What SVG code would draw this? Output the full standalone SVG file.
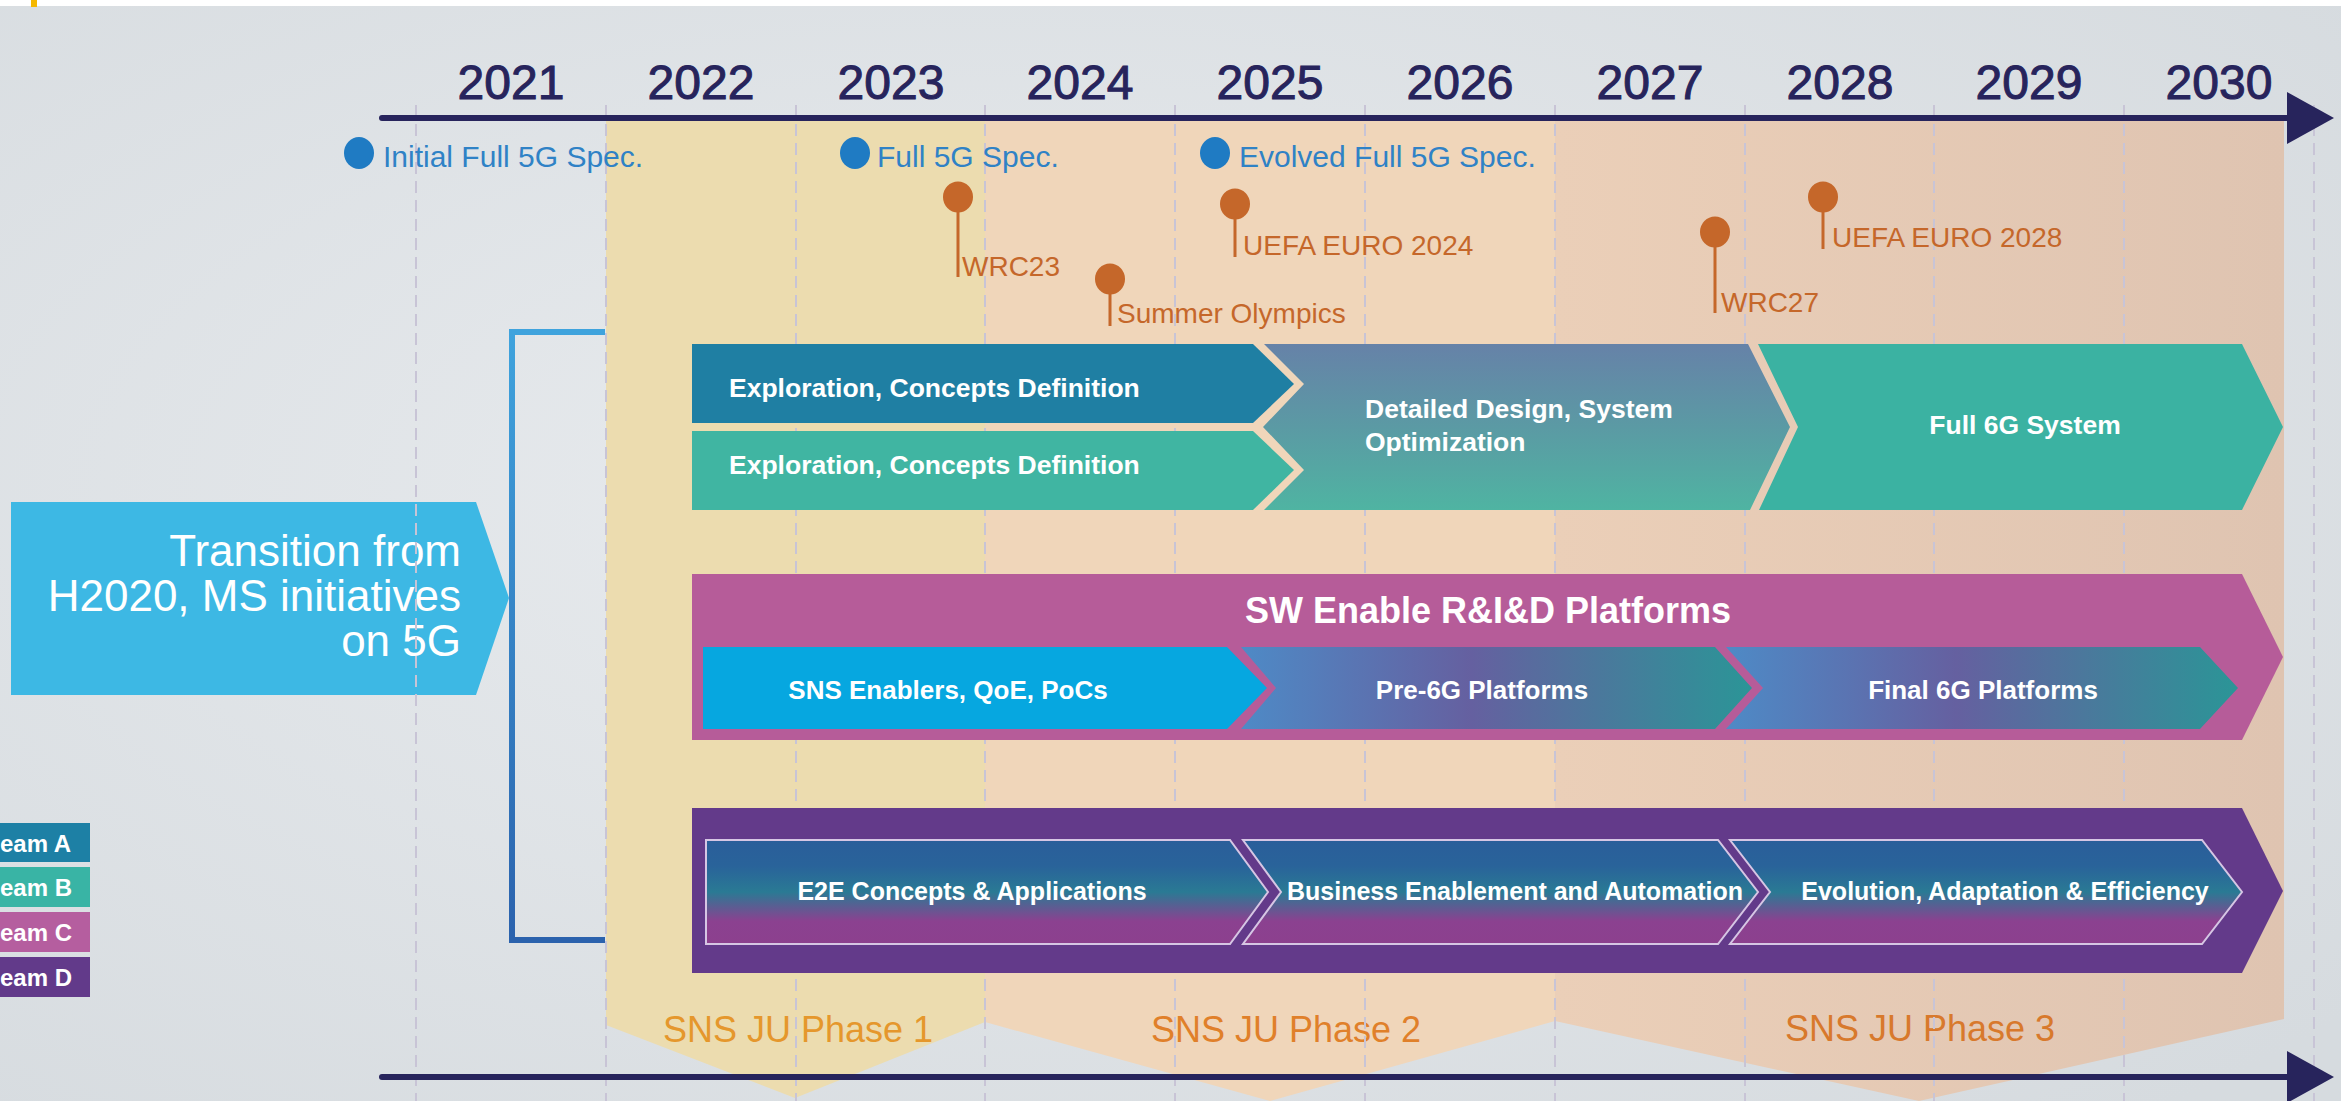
<svg xmlns="http://www.w3.org/2000/svg" width="2341" height="1101" viewBox="0 0 2341 1101">
<defs>
<radialGradient id="bg" cx="0.42" cy="0.45" r="0.75">
<stop offset="0" stop-color="#e8ebee"/>
<stop offset="1" stop-color="#d6dbdf"/>
</radialGradient>
<linearGradient id="ph3" x1="0" y1="0" x2="1" y2="0">
<stop offset="0" stop-color="#ebcfb8"/>
<stop offset="1" stop-color="#dfc4b1"/>
</linearGradient>
<linearGradient id="detail" x1="0" y1="0" x2="0" y2="1">
<stop offset="0" stop-color="#6682a8"/>
<stop offset="0.5" stop-color="#5b9aa4"/>
<stop offset="1" stop-color="#4fb4a2"/>
</linearGradient>
<linearGradient id="plat" x1="0" y1="0" x2="1" y2="0">
<stop offset="0" stop-color="#4e8ac6"/>
<stop offset="0.45" stop-color="#6560a0"/>
<stop offset="1" stop-color="#2b9597"/>
</linearGradient>
<linearGradient id="e2e" x1="0" y1="0" x2="0" y2="1">
<stop offset="0" stop-color="#2a5e9a"/>
<stop offset="0.25" stop-color="#29639a"/>
<stop offset="0.5" stop-color="#2a7a94"/>
<stop offset="0.78" stop-color="#8b4190"/>
<stop offset="1" stop-color="#8c408e"/>
</linearGradient>
<linearGradient id="brk" x1="0" y1="0" x2="0" y2="1">
<stop offset="0" stop-color="#3fa3dd"/>
<stop offset="1" stop-color="#2b62ad"/>
</linearGradient>
<marker id="axhead" viewBox="0 0 47 52" refX="3" refY="26" markerWidth="47" markerHeight="52" markerUnits="userSpaceOnUse" orient="auto">
<path d="M0,0 L47,26 L0,52 Z" fill="#27245c"/>
</marker>
<style>
.f{font-family:"Liberation Sans",Arial,sans-serif}
.yr{font-size:48px;fill:#27245c;stroke:#27245c;stroke-width:1;text-anchor:middle}
.grid{stroke:#c8c4d6;stroke-width:2;stroke-dasharray:12 7;fill:none}
.axis{stroke:#27245c;stroke-width:6;stroke-linecap:round;fill:none}
.blue{font-size:30px;fill:#2f82c6}
.bdot{fill:#1f7bc3}
.org{font-size:28px;fill:#c5672a}
.odot{fill:#c5672a}
.stem{stroke:#c5672a;stroke-width:3}
.wb{font-weight:bold;fill:#ffffff}
.w{fill:#ffffff}
.ph{font-size:36px;text-anchor:middle}
</style>
</defs>
<rect x="0" y="0" width="2341" height="1101" fill="url(#bg)"/>
<rect x="0" y="0" width="2341" height="6" fill="#ffffff"/>
<rect x="31" y="0" width="6" height="7" fill="#f5b800"/>

<g id="phases">
<polygon points="606,118 985,118 985,1022 795,1098 606,1025" fill="#ecdcaf"/>
<polygon points="985,118 1555,118 1555,1021 1270,1101 985,1022" fill="#f0d6ba"/>
<polygon points="1555,118 2284,118 2284,1019 1919,1101 1555,1021" fill="url(#ph3)"/>
<text class="f ph" x="798" y="1042" fill="#e5972c">SNS JU Phase 1</text>
<text class="f ph" x="1286" y="1042" fill="#e0802a">SNS JU Phase 2</text>
<text class="f ph" x="1920" y="1041" fill="#d8792c">SNS JU Phase 3</text>
</g>

<g id="transition">
<polygon points="11,502 476,502 509,598 476,695 11,695" fill="#3db8e4"/>
<text class="f w" font-size="44" text-anchor="end"><tspan x="461" y="566">Transition from</tspan><tspan x="461" y="611">H2020, MS initiatives</tspan><tspan x="461" y="656">on 5G</tspan></text>
</g>

<g id="grid">
<line class="grid" x1="416" y1="105" x2="416" y2="1101"/>
<line class="grid" x1="606" y1="105" x2="606" y2="1101"/>
<line class="grid" x1="796" y1="105" x2="796" y2="1101"/>
<line class="grid" x1="985" y1="105" x2="985" y2="1101"/>
<line class="grid" x1="1175" y1="105" x2="1175" y2="1101"/>
<line class="grid" x1="1365" y1="105" x2="1365" y2="1101"/>
<line class="grid" x1="1555" y1="105" x2="1555" y2="1101"/>
<line class="grid" x1="1745" y1="105" x2="1745" y2="1101"/>
<line class="grid" x1="1934" y1="105" x2="1934" y2="1101"/>
<line class="grid" x1="2124" y1="105" x2="2124" y2="1101"/>
<line class="grid" x1="2314" y1="105" x2="2314" y2="1101"/>
</g>

<g id="axes">
<line class="axis" x1="382" y1="118" x2="2290" y2="118" marker-end="url(#axhead)"/>
<line class="axis" x1="382" y1="1077" x2="2290" y2="1077" marker-end="url(#axhead)"/>
</g>

<g id="years" class="f">
<text class="yr" x="511" y="99">2021</text>
<text class="yr" x="701" y="99">2022</text>
<text class="yr" x="891" y="99">2023</text>
<text class="yr" x="1080" y="99">2024</text>
<text class="yr" x="1270" y="99">2025</text>
<text class="yr" x="1460" y="99">2026</text>
<text class="yr" x="1650" y="99">2027</text>
<text class="yr" x="1840" y="99">2028</text>
<text class="yr" x="2029" y="99">2029</text>
<text class="yr" x="2219" y="99">2030</text>
</g>

<g id="spec-initial">
<ellipse class="bdot" cx="359" cy="153" rx="15" ry="16"/>
<text class="f blue" x="383" y="167">Initial Full 5G Spec.</text>
</g>
<g id="spec-full">
<ellipse class="bdot" cx="855" cy="153" rx="15" ry="16"/>
<text class="f blue" x="877" y="167">Full 5G Spec.</text>
</g>
<g id="spec-evolved">
<ellipse class="bdot" cx="1215" cy="153" rx="15" ry="16"/>
<text class="f blue" x="1239" y="167">Evolved Full 5G Spec.</text>
</g>

<g id="ev-wrc23">
<line class="stem" x1="958" y1="197" x2="958" y2="277"/>
<ellipse class="odot" cx="958" cy="197" rx="15" ry="15.5"/>
<text class="f org" x="962" y="276">WRC23</text>
</g>
<g id="ev-olympics">
<line class="stem" x1="1110" y1="279" x2="1110" y2="326"/>
<ellipse class="odot" cx="1110" cy="279" rx="15" ry="15.5"/>
<text class="f org" x="1117" y="323">Summer Olympics</text>
</g>
<g id="ev-euro2024">
<line class="stem" x1="1235" y1="204" x2="1235" y2="257"/>
<ellipse class="odot" cx="1235" cy="204" rx="15" ry="15.5"/>
<text class="f org" x="1243" y="255">UEFA EURO 2024</text>
</g>
<g id="ev-wrc27">
<line class="stem" x1="1715" y1="232" x2="1715" y2="313"/>
<ellipse class="odot" cx="1715" cy="232" rx="15" ry="15.5"/>
<text class="f org" x="1721" y="312">WRC27</text>
</g>
<g id="ev-euro2028">
<line class="stem" x1="1823" y1="197" x2="1823" y2="249"/>
<ellipse class="odot" cx="1823" cy="197" rx="15" ry="15.5"/>
<text class="f org" x="1832" y="247">UEFA EURO 2028</text>
</g>

<g id="connectors">
<path d="M605,332 H512 V940 H605" fill="none" stroke="url(#brk)" stroke-width="6"/>
</g>

<g id="teamA-exploration">
<polygon points="692,344 1253,344 1294,384 1253,423 692,423" fill="#1f7fa3"/>
<text class="f wb" font-size="26.5" x="729" y="397">Exploration, Concepts Definition</text>
</g>
<g id="teamB-exploration">
<polygon points="692,431 1253,431 1294,470 1253,510 692,510" fill="#40b5a2"/>
<text class="f wb" font-size="26.5" x="729" y="474">Exploration, Concepts Definition</text>
</g>
<g id="detailed-design">
<polygon points="1264,344 1748,344 1790,427 1750,510 1264,510 1304,470 1263,427 1304,384" fill="url(#detail)"/>
<text class="f wb" font-size="26.5"><tspan x="1365" y="418">Detailed Design, System</tspan><tspan x="1365" y="451">Optimization</tspan></text>
</g>
<g id="full-6g">
<polygon points="1758,344 2242,344 2283,427 2242,510 1759,510 1798,427" fill="#3bb2a2"/>
<text class="f wb" font-size="26.5" x="2025" y="434" text-anchor="middle">Full 6G System</text>
</g>

<g id="teamC-platforms">
<polygon points="692,574 2242,574 2283,657 2242,740 692,740" fill="#b65c99"/>
<text class="f w" font-size="36" font-weight="bold" x="1488" y="623" text-anchor="middle">SW Enable R&amp;I&amp;D Platforms</text>
</g>
<g id="sns-enablers">
<polygon points="703,647 1227,647 1267,688 1227,729 703,729" fill="#06a7e0"/>
<text class="f wb" font-size="26" x="948" y="699" text-anchor="middle">SNS Enablers, QoE, PoCs</text>
</g>
<g id="pre-6g">
<polygon points="1241,647 1715,647 1752,688 1715,729 1241,729 1276,688" fill="url(#plat)"/>
<text class="f wb" font-size="26" x="1482" y="699" text-anchor="middle">Pre-6G Platforms</text>
</g>
<g id="final-6g">
<polygon points="1726,647 2200,647 2238,688 2200,729 1726,729 1763,688" fill="url(#plat)"/>
<text class="f wb" font-size="26" x="1983" y="699" text-anchor="middle">Final 6G Platforms</text>
</g>

<g id="teamD-stream">
<polygon points="692,808 2242,808 2283,891 2242,973 692,973" fill="#633a8a"/>
</g>
<g id="e2e">
<polygon points="706,840 1230,840 1268,892 1230,944 706,944" fill="url(#e2e)" stroke="#d6c6e4" stroke-width="2"/>
<text class="f wb" font-size="25" x="972" y="900" text-anchor="middle">E2E Concepts &amp; Applications</text>
</g>
<g id="business">
<polygon points="1243,840 1718,840 1758,892 1718,944 1243,944 1281,892" fill="url(#e2e)" stroke="#d6c6e4" stroke-width="2"/>
<text class="f wb" font-size="25" x="1515" y="900" text-anchor="middle">Business Enablement and Automation</text>
</g>
<g id="evolution">
<polygon points="1730,840 2202,840 2242,892 2202,944 1730,944 1770,892" fill="url(#e2e)" stroke="#d6c6e4" stroke-width="2"/>
<text class="f wb" font-size="25" x="2005" y="900" text-anchor="middle">Evolution, Adaptation &amp; Efficiency</text>
</g>

<g id="legend-a">
<rect x="0" y="823" width="90" height="39" fill="#1d80a5"/>
<text class="f wb" font-size="24" x="0" y="852">eam A</text>
</g>
<g id="legend-b">
<rect x="0" y="867" width="90" height="40" fill="#39b4a5"/>
<text class="f wb" font-size="24" x="0" y="896">eam B</text>
</g>
<g id="legend-c">
<rect x="0" y="912" width="90" height="40" fill="#b55e9f"/>
<text class="f wb" font-size="24" x="0" y="941">eam C</text>
</g>
<g id="legend-d">
<rect x="0" y="957" width="90" height="40" fill="#623a8a"/>
<text class="f wb" font-size="24" x="0" y="986">eam D</text>
</g>
</svg>
